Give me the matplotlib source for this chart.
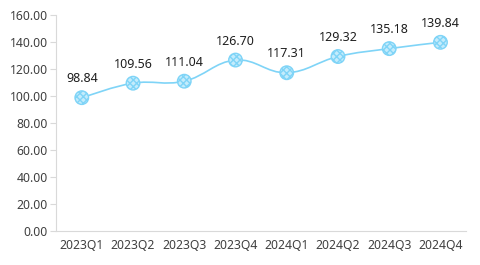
import numpy as np
import matplotlib.pyplot as plt
from matplotlib.path import Path
from matplotlib.patches import PathPatch

quarters = ['2023Q1', '2023Q2', '2023Q3', '2023Q4', '2024Q1', '2024Q2', '2024Q3', '2024Q4']
values = [98.84, 109.56, 111.04, 126.70, 117.31, 129.32, 135.18, 139.84]

plt.rcParams['font.family'] = ['Noto Sans', 'DejaVu Sans']
plt.rcParams['hatch.linewidth'] = 1.0
plt.rcParams['hatch.color'] = '#6ccbf4'

fig = plt.figure(figsize=(4.8, 2.65), dpi=100)
ax = fig.add_axes([0.117, 0.128, 0.854, 0.815])

x = np.arange(len(values))
y = np.array(values)

# smooth curve through the points (cardinal spline as bezier segments)
t = 0.2
verts = [(x[0], y[0])]
codes = [Path.MOVETO]
for i in range(len(x) - 1):
    p0 = (x[max(i - 1, 0)], y[max(i - 1, 0)])
    p1 = (x[i], y[i])
    p2 = (x[i + 1], y[i + 1])
    p3 = (x[min(i + 2, len(x) - 1)], y[min(i + 2, len(x) - 1)])
    c1 = (p1[0] + (p2[0] - p0[0]) * t, p1[1] + (p2[1] - p0[1]) * t)
    c2 = (p2[0] - (p3[0] - p1[0]) * t, p2[1] - (p3[1] - p1[1]) * t)
    verts += [c1, c2, p2]
    codes += [Path.CURVE4] * 3
ax.add_patch(PathPatch(Path(verts, codes), facecolor='none', edgecolor='#7fd4f7', lw=1.2, zorder=2))

ax.scatter(x, y, s=95, facecolor='#c4ecfc', edgecolor='#7fd4f7', hatch='xxxxx',
           linewidth=1.0, zorder=3)

for xi, v in zip(x, values):
    ax.annotate(f'{v:.2f}', (xi, v), xytext=(0, 9), textcoords='offset points',
                ha='center', va='bottom', fontsize=9, color='#1f1f1f')

ax.set_xlim(-0.5, len(values) - 0.5)
ax.set_ylim(0, 160)
ax.set_yticks(np.arange(0, 161, 20))
ax.set_yticklabels([f'{v:.2f}' for v in np.arange(0, 161, 20)])
ax.set_xticks(x)
ax.set_xticklabels(quarters)

for s in ['top', 'right']:
    ax.spines[s].set_visible(False)
for s in ['left', 'bottom']:
    ax.spines[s].set_color('#d9d9d9')
ax.tick_params(axis='y', colors='#d9d9d9', labelcolor='#404040', labelsize=8.8, length=4, pad=2)
ax.tick_params(axis='x', length=0, labelcolor='#404040', labelsize=8.8, pad=6)

fig.savefig('out.png', dpi=100)
